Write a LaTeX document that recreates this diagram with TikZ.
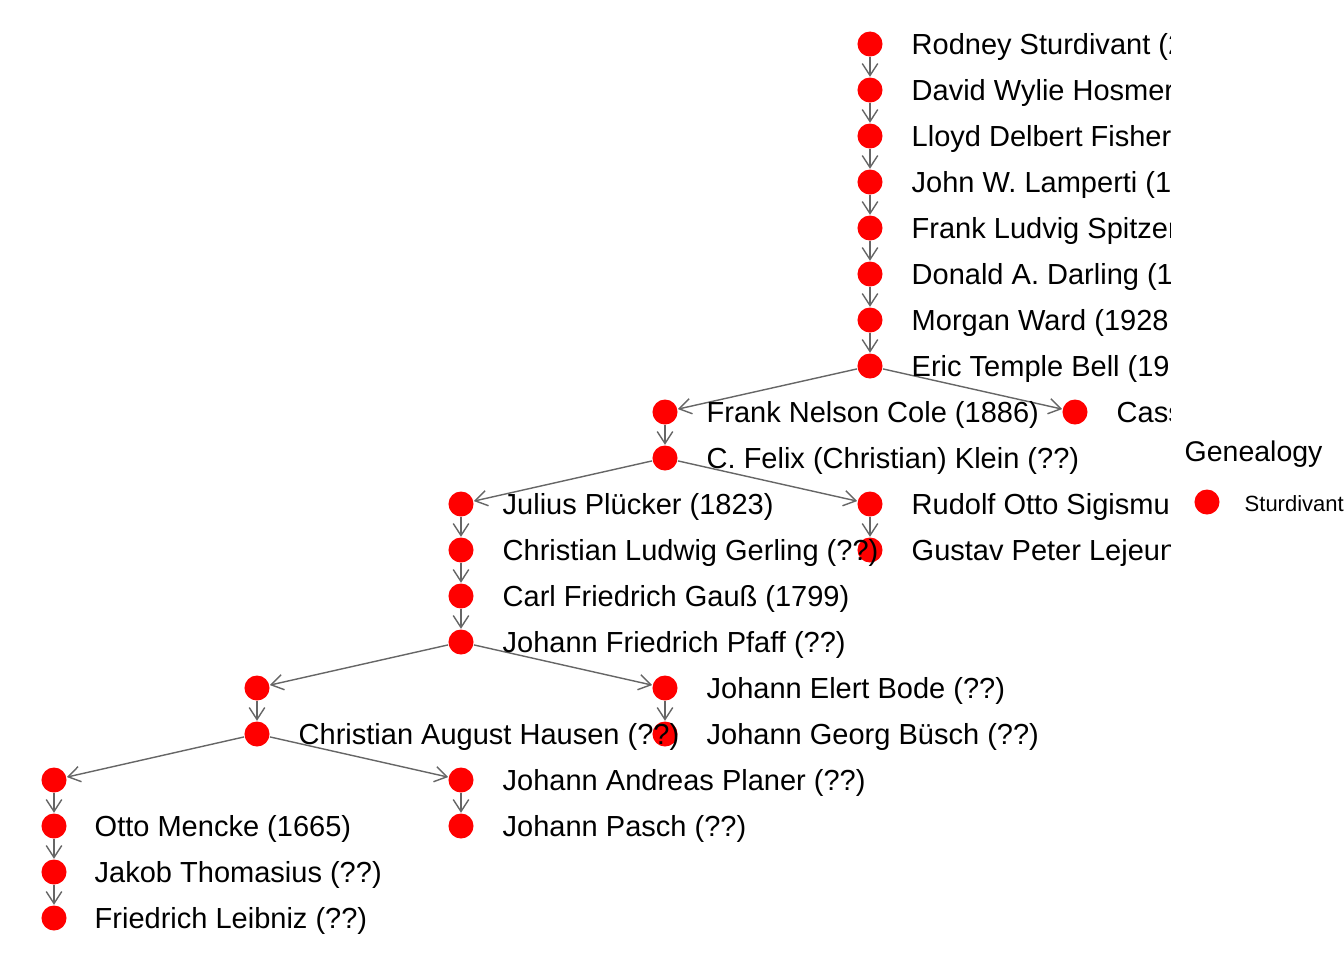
\documentclass[tikz,border=0pt]{standalone}
\usepackage{fontspec}
\setmainfont{Liberation Sans}
\usetikzlibrary{arrows.meta,backgrounds}
\definecolor{dotred}{RGB}{255,0,0}
\definecolor{edgegray}{RGB}{102,102,102}

\begin{document}
\begin{tikzpicture}[x=0.01cm,y=-0.01cm,
    main/.style = {circle, fill=dotred, inner sep=0pt, minimum size=0.25cm},
    who/.style = {anchor=base west, inner sep=0pt, font=\fontsize{8.25}{10}\selectfont},
    link/.style = {draw=edgegray, line width=0.4pt, -{Straight Barb[length=3.4pt,width=4.4pt]}}]
    \useasboundingbox (0,0) rectangle (1344,960);
    % vertices
    \node at (870,44)  [main] (1) {};
    \node at (870,90)  [main] (2) {};
    \node at (870,136) [main] (3) {};
    \node at (870,182) [main] (4) {};
    \node at (870,228) [main] (5) {};
    \node at (870,274) [main] (6) {};
    \node at (870,320) [main] (7) {};
    \node at (870,366) [main] (8) {};
    \node at (665,412) [main] (9) {};
    \node at (1075,412) [main] (10) {};
    \node at (665,458) [main] (11) {};
    \node at (461,504) [main] (12) {};
    \node at (870,504) [main] (13) {};
    \node at (461,550) [main] (14) {};
    \node at (870,550) [main] (15) {};
    \node at (461,596) [main] (16) {};
    \node at (461,642) [main] (17) {};
    \node at (257,688) [main] (18) {};
    \node at (665,688) [main] (19) {};
    \node at (257,734) [main] (20) {};
    \node at (665,734) [main] (21) {};
    \node at (54,780)  [main] (22) {};
    \node at (461,780) [main] (23) {};
    \node at (54,826)  [main] (24) {};
    \node at (461,826) [main] (25) {};
    \node at (54,872)  [main] (26) {};
    \node at (54,918)  [main] (27) {};
    % labels, cut at the plot edge
    \begin{scope}
    \clip (0,0) rectangle (1170,960);
    \node at (911,54.5)  [who] (t1) {Rodney Sturdivant (2};
    \node at (911,100.5) [who] (t2) {David Wylie Hosmer};
    \node at (911,146.5) [who] (t3) {Lloyd Delbert Fisher (};
    \node at (911,192.5) [who] (t4) {John W. Lamperti (1};
    \node at (911,238.5) [who] (t5) {Frank Ludvig Spitzer};
    \node at (911,284.5) [who] (t6) {Donald A. Darling (1};
    \node at (911,330.5) [who] (t7) {Morgan Ward (1928};
    \node at (911,376.5) [who] (t8) {Eric Temple Bell (19};
    \node at (706,422.5) [who] (t9) {Frank Nelson Cole (1886)};
    \node at (1116,422.5) [who] (t10) {Cass};
    \node at (706,468.5) [who] (t11) {C. Felix (Christian) Klein (??)};
    \node at (502,514.5) [who] (t12) {Julius Plücker (1823)};
    \node at (911,514.5) [who] (t13) {Rudolf Otto Sigismun};
    \node at (502,560.5) [who] (t14) {Christian Ludwig Gerling (??)};
    \node at (911,560.5) [who] (t15) {Gustav Peter Lejeune};
    \node at (502,606.5) [who] (t16) {Carl Friedrich Gauß (1799)};
    \node at (502,652.5) [who] (t17) {Johann Friedrich Pfaff (??)};
    \node at (706,698.5) [who] (t19) {Johann Elert Bode (??)};
    \node at (298,744.5) [who] (t20) {Christian August Hausen (??)};
    \node at (706,744.5) [who] (t21) {Johann Georg Büsch (??)};
    \node at (502,790.5) [who] (t23) {Johann Andreas Planer (??)};
    \node at (94,836.5)  [who] (t24) {Otto Mencke (1665)};
    \node at (502,836.5) [who] (t25) {Johann Pasch (??)};
    \node at (94,882.5)  [who] (t26) {Jakob Thomasius (??)};
    \node at (94,928.5)  [who] (t27) {Friedrich Leibniz (??)};
    \end{scope}
    % edges
    \begin{scope}[on background layer]
    \draw[link] (1) -- (2);
    \draw[link] (2) -- (3);
    \draw[link] (3) -- (4);
    \draw[link] (4) -- (5);
    \draw[link] (5) -- (6);
    \draw[link] (6) -- (7);
    \draw[link] (7) -- (8);
    \draw[link] (8) -- (9);
    \draw[link] (8) -- (10);
    \draw[link] (9) -- (11);
    \draw[link] (11) -- (12);
    \draw[link] (11) -- (13);
    \draw[link] (13) -- (15);
    \draw[link] (12) -- (14);
    \draw[link] (14) -- (16);
    \draw[link] (16) -- (17);
    \draw[link] (17) -- (18);
    \draw[link] (17) -- (19);
    \draw[link] (19) -- (21);
    \draw[link] (18) -- (20);
    \draw[link] (20) -- (22);
    \draw[link] (20) -- (23);
    \draw[link] (23) -- (25);
    \draw[link] (22) -- (24);
    \draw[link] (24) -- (26);
    \draw[link] (26) -- (27);
    \end{scope}
    % legend
    \node at (1184,461) [anchor=base west, inner sep=0pt, font=\fontsize{8.1}{10}\selectfont] (legtitle) {Genealogy};
    \node at (1207,502) [main] (legdot) {};
    \node at (1244,511) [anchor=base west, inner sep=0pt, font=\fontsize{6.26}{8}\selectfont] (legkey) {Sturdivant};
\end{tikzpicture}
\end{document}
